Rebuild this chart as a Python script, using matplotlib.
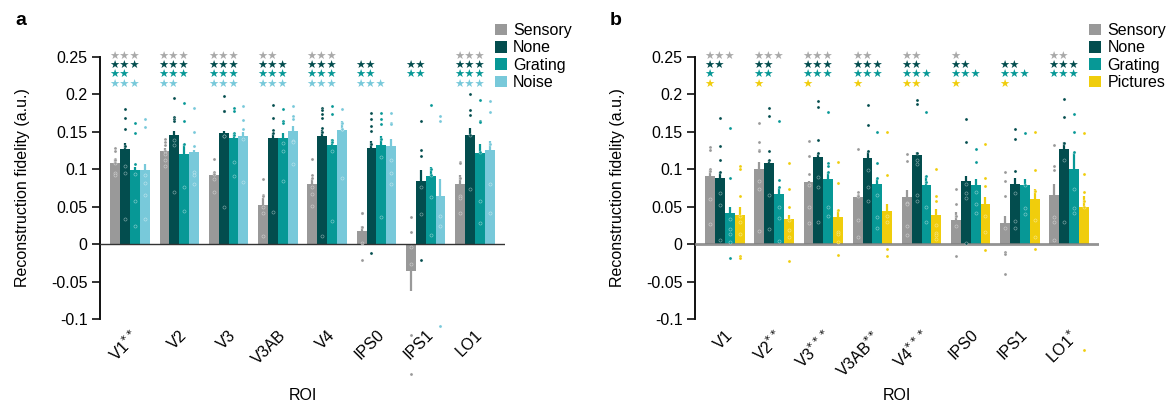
import matplotlib
matplotlib.use("Agg")
import matplotlib.pyplot as plt
from matplotlib.patches import Patch
import numpy as np

plt.rcParams['font.family'] = ['Liberation Sans', 'DejaVu Sans']

# ---------------- data ----------------
rois_a = ['V1$^{**}$', 'V2', 'V3', 'V3AB', 'V4', 'IPS0', 'IPS1', 'LO1']
rois_b = ['V1', 'V2$^{**}$', 'V3$^{***}$', 'V3AB$^{**}$', 'V4$^{***}$', 'IPS0', 'IPS1', 'LO1$^{*}$']

series_a = ['Sensory', 'None', 'Grating', 'Noise']
series_b = ['Sensory', 'None', 'Grating', 'Pictures']

# panel a bar means
a_sensory = [0.109, 0.124, 0.092, 0.052, 0.081, 0.017, -0.036, 0.081]
a_none    = [0.127, 0.146, 0.148, 0.142, 0.144, 0.128, 0.084, 0.146]
a_grating = [0.099, 0.120, 0.142, 0.142, 0.132, 0.132, 0.091, 0.122]
a_noise   = [0.099, 0.123, 0.144, 0.151, 0.152, 0.131, 0.064, 0.126]
# panel a errors
a_sensory_err = [0.005, 0.005, 0.003, 0.009, 0.006, 0.007, 0.027, 0.011]
a_none_err    = [0.008, 0.005, 0.003, 0.006, 0.008, 0.010, 0.015, 0.009]
a_grating_err = [0.004, 0.014, 0.006, 0.006, 0.008, 0.013, 0.012, 0.012]
a_noise_err   = [0.008, 0.003, 0.006, 0.007, 0.012, 0.010, 0.023, 0.012]

# panel b bar means
b_sensory  = [0.091, 0.101, 0.083, 0.063, 0.063, 0.032, 0.028, 0.065]
b_none     = [0.089, 0.108, 0.117, 0.115, 0.119, 0.085, 0.080, 0.127]
b_grating  = [0.041, 0.067, 0.087, 0.080, 0.079, 0.079, 0.079, 0.100]
b_pictures = [0.039, 0.033, 0.036, 0.044, 0.039, 0.053, 0.060, 0.049]
b_sensory_err  = [0.008, 0.009, 0.002, 0.003, 0.009, 0.011, 0.009, 0.015]
b_none_err     = [0.008, 0.005, 0.003, 0.008, 0.004, 0.006, 0.009, 0.009]
b_grating_err  = [0.009, 0.008, 0.010, 0.007, 0.012, 0.008, 0.008, 0.022]
b_pictures_err = [0.011, 0.006, 0.009, 0.009, 0.008, 0.010, 0.013, 0.015]

# individual subject points (panel a)
a_sensory_pts = [
    [0.129, 0.125, 0.114, 0.112, 0.109, 0.095, 0.093],
    [0.140, 0.137, 0.133, 0.124, 0.120, 0.113, 0.105],
    [0.114, 0.097, 0.094, 0.087, 0.070],
    [0.087, 0.065, 0.064, 0.050, 0.042, 0.011],
    [0.114, 0.092, 0.088, 0.077, 0.067, 0.051],
    [0.042, 0.042, 0.023, 0.001, -0.021],
    [0.036, 0.016, -0.004, -0.026, -0.121, -0.174],
    [0.110, 0.109, 0.088, 0.064, 0.062, 0.042],
]
a_none_pts = [
    [0.181, 0.168, 0.154, 0.131, 0.105, 0.095, 0.034],
    [0.195, 0.170, 0.167, 0.164, 0.139, 0.133, 0.069],
    [0.198, 0.178, 0.178, 0.144, 0.144, 0.050],
    [0.186, 0.169, 0.153, 0.149, 0.043],
    [0.182, 0.179, 0.174, 0.169, 0.155, 0.150, 0.011],
    [0.175, 0.167, 0.158, 0.151, 0.134, -0.012],
    [0.164, 0.126, 0.118, 0.077, 0.040, -0.021],
    [0.200, 0.179, 0.173, 0.146, 0.074],
]
a_grating_pts = [
    [0.162, 0.149, 0.107, 0.094, 0.058, 0.024],
    [0.188, 0.164, 0.134, 0.077, 0.044],
    [0.182, 0.178, 0.149, 0.146, 0.110, 0.091],
    [0.180, 0.164, 0.162, 0.135, 0.124, 0.085],
    [0.185, 0.174, 0.139, 0.137, 0.125, 0.031],
    [0.175, 0.167, 0.161, 0.141, 0.116, 0.036],
    [0.186, 0.101, 0.092, 0.063, 0.012],
    [0.193, 0.165, 0.163, 0.123, 0.058, 0.028],
]
a_noise_pts = [
    [0.167, 0.157, 0.092, 0.082, 0.065, 0.033],
    [0.182, 0.150, 0.131, 0.097, 0.093, 0.081],
    [0.185, 0.166, 0.154, 0.140, 0.083],
    [0.185, 0.171, 0.167, 0.138, 0.137, 0.107],
    [0.180, 0.162, 0.154, 0.154, 0.089],
    [0.175, 0.162, 0.161, 0.113, 0.095, 0.081],
    [0.171, 0.165, 0.037, 0.024, -0.109],
    [0.191, 0.176, 0.134, 0.080, 0.041],
]
# individual subject points (panel b)
b_sensory_pts = [
    [0.130, 0.126, 0.101, 0.098, 0.060, 0.027],
    [0.162, 0.137, 0.126, 0.124, 0.084, 0.073, 0.018],
    [0.138, 0.118, 0.094, 0.079, 0.050, 0.028],
    [0.127, 0.069, 0.066, 0.064, 0.032, 0.010],
    [0.120, 0.111, 0.055, 0.053, 0.024, 0.012],
    [0.074, 0.054, 0.037, 0.024, -0.016],
    [0.096, 0.085, 0.064, 0.022, -0.011, -0.013, -0.040],
    [0.132, 0.105, 0.099, 0.036, 0.030, 0.006],
]
b_none_pts = [
    [0.168, 0.131, 0.113, 0.097, 0.068, 0.052, 0.006],
    [0.182, 0.171, 0.124, 0.113, 0.065, 0.020],
    [0.191, 0.183, 0.139, 0.122, 0.090, 0.077, 0.029],
    [0.186, 0.159, 0.125, 0.099, 0.077, 0.057],
    [0.193, 0.187, 0.122, 0.112, 0.107, 0.065, 0.057],
    [0.167, 0.137, 0.081, 0.068, 0.061, 0.001],
    [0.154, 0.140, 0.098, 0.068, 0.031, 0.022],
    [0.194, 0.170, 0.135, 0.112, 0.030],
]
b_grating_pts = [
    [0.155, 0.088, 0.033, 0.020, 0.013, 0.003, -0.018],
    [0.165, 0.086, 0.077, 0.050, 0.035, 0.004],
    [0.176, 0.109, 0.104, 0.097, 0.049, 0.038],
    [0.150, 0.108, 0.088, 0.066, 0.036, 0.022],
    [0.177, 0.091, 0.083, 0.050, 0.029],
    [0.127, 0.110, 0.069, 0.054, 0.041],
    [0.149, 0.079, 0.048, 0.040],
    [0.174, 0.150, 0.123, 0.073, 0.048, 0.042],
]
b_pictures_pts = [
    [0.105, 0.100, 0.064, 0.038, 0.029, 0.013, -0.016, -0.018],
    [0.109, 0.073, 0.050, 0.032, 0.019, 0.010, -0.022],
    [0.110, 0.082, 0.045, 0.016, 0.013, 0.003, -0.015],
    [0.150, 0.092, 0.038, 0.030, -0.006, -0.016],
    [0.101, 0.064, 0.057, 0.025, 0.015, 0.012, 0.007],
    [0.134, 0.088, 0.078, 0.037, 0.016, -0.008],
    [0.150, 0.099, 0.071, 0.032, 0.009, -0.006],
    [0.149, 0.094, 0.069, 0.058, 0.050, -0.142],
]

# significance stars (count per ROI, per series)
a_stars = {
    'Sensory': [3, 3, 3, 2, 3, 0, 0, 3],
    'None':    [3, 3, 3, 3, 3, 2, 2, 3],
    'Grating': [2, 3, 3, 3, 3, 2, 2, 3],
    'Noise':   [3, 2, 3, 3, 3, 3, 0, 3],
}
b_stars = {
    'Sensory':  [3, 3, 3, 2, 2, 1, 0, 2],
    'None':     [2, 2, 3, 3, 2, 2, 2, 3],
    'Grating':  [1, 2, 3, 3, 3, 3, 3, 3],
    'Pictures': [1, 1, 1, 1, 2, 1, 1, 0],
}

yticks = [0.25, 0.2, 0.15, 0.1, 0.05, 0, -0.05, -0.1]
ytick_labels = ['0.25', '0.2', '0.15', '0.1', '0.05', '0', '-0.05', '-0.1']

# ---------------- style ----------------
colors = {
    'Sensory': '#999999',
    'None': '#034d4e',
    'Grating': '#079896',
    'Noise': '#78c9da',
    'Pictures': '#f0cd0c',
}
star_colors = dict(colors)
star_colors['Sensory'] = '#a9a9a9'

W, H = 1171, 404
fig = plt.figure(figsize=(W / 100, H / 100), dpi=100)

ax_bottom = 1 - 319 / H
ax_height = 262 / H
ax_a = fig.add_axes([100 / W, ax_bottom, 405 / W, ax_height])
ax_b = fig.add_axes([695 / W, ax_bottom, 404 / W, ax_height])

bw = 0.2
offsets = [-1.5 * bw, -0.5 * bw, 0.5 * bw, 1.5 * bw]
star_rows = [0.2505, 0.238, 0.2255, 0.2132]


def draw_panel(ax, rois, names, means, errs, pts, stars, zero_style, label):
    x = np.arange(len(rois))
    for k, name in enumerate(names):
        c = colors[name]
        xs = x + offsets[k]
        ax.bar(xs, means[k], width=bw, color=c, zorder=2, linewidth=0)
        ax.errorbar(xs, means[k], yerr=errs[k], fmt='none', ecolor=c,
                    elinewidth=1.6, capsize=0, zorder=2.5)
        for i, plist in enumerate(pts[k]):
            ax.scatter([xs[i]] * len(plist), plist, s=5, color=c,
                       edgecolors=(1, 1, 1, 0.55), linewidths=0.4,
                       zorder=4, clip_on=False)
        for i, n in enumerate(stars[name]):
            if n > 0:
                ax.text(x[i] - 0.42, star_rows[k], '\u2605' * n,
                        family='DejaVu Sans', fontsize=8.2,
                        color=star_colors[name], ha='left', va='center',
                        clip_on=False)
    ax.axhline(0, **zero_style)
    ax.set_xlim(-0.61, 7.61)
    ax.set_ylim(-0.1, 0.25)
    ax.set_yticks(yticks)
    ax.set_yticklabels(ytick_labels, fontsize=11.5)
    ax.set_xticks(x)
    ax.set_xticklabels(rois, rotation=45, ha='right', rotation_mode='anchor',
                       fontsize=11.5)
    ax.tick_params(axis='x', length=0, pad=6)
    ax.tick_params(axis='y', length=6, width=1.3, direction='out', pad=3,
                   color='#222222')
    for s in ['top', 'right', 'bottom']:
        ax.spines[s].set_visible(False)
    ax.spines['left'].set_linewidth(1.4)
    ax.spines['left'].set_color('#111111')
    ax.set_ylabel('Reconstruction fidelity (a.u.)', fontsize=11.5, labelpad=15)
    ax.set_xlabel('ROI', fontsize=11.5)
    ax.xaxis.set_label_coords(0.5, (319 - 395) / 262)
    ax.xaxis.label.set_va('center')
    handles = [Patch(facecolor=colors[n], edgecolor='none', label=n) for n in names]
    ax.legend(handles=handles, loc='upper left', bbox_to_anchor=(0.975, 1.13),
              frameon=False, fontsize=11.5, handlelength=0.75, handleheight=0.75,
              handletextpad=0.4, labelspacing=0.15, borderaxespad=0,
              borderpad=0)
    ax.text(-0.21, 1.14, label, transform=ax.transAxes, fontsize=14,
            fontweight='bold', ha='left', va='center')


draw_panel(ax_a, rois_a, series_a,
           [a_sensory, a_none, a_grating, a_noise],
           [a_sensory_err, a_none_err, a_grating_err, a_noise_err],
           [a_sensory_pts, a_none_pts, a_grating_pts, a_noise_pts],
           a_stars, dict(color='#333333', lw=1.0, zorder=3), 'a')

draw_panel(ax_b, rois_b, series_b,
           [b_sensory, b_none, b_grating, b_pictures],
           [b_sensory_err, b_none_err, b_grating_err, b_pictures_err],
           [b_sensory_pts, b_none_pts, b_grating_pts, b_pictures_pts],
           b_stars, dict(color='#808080', lw=2.0, alpha=0.85, zorder=3), 'b')

fig.savefig('out.png', dpi=100)
